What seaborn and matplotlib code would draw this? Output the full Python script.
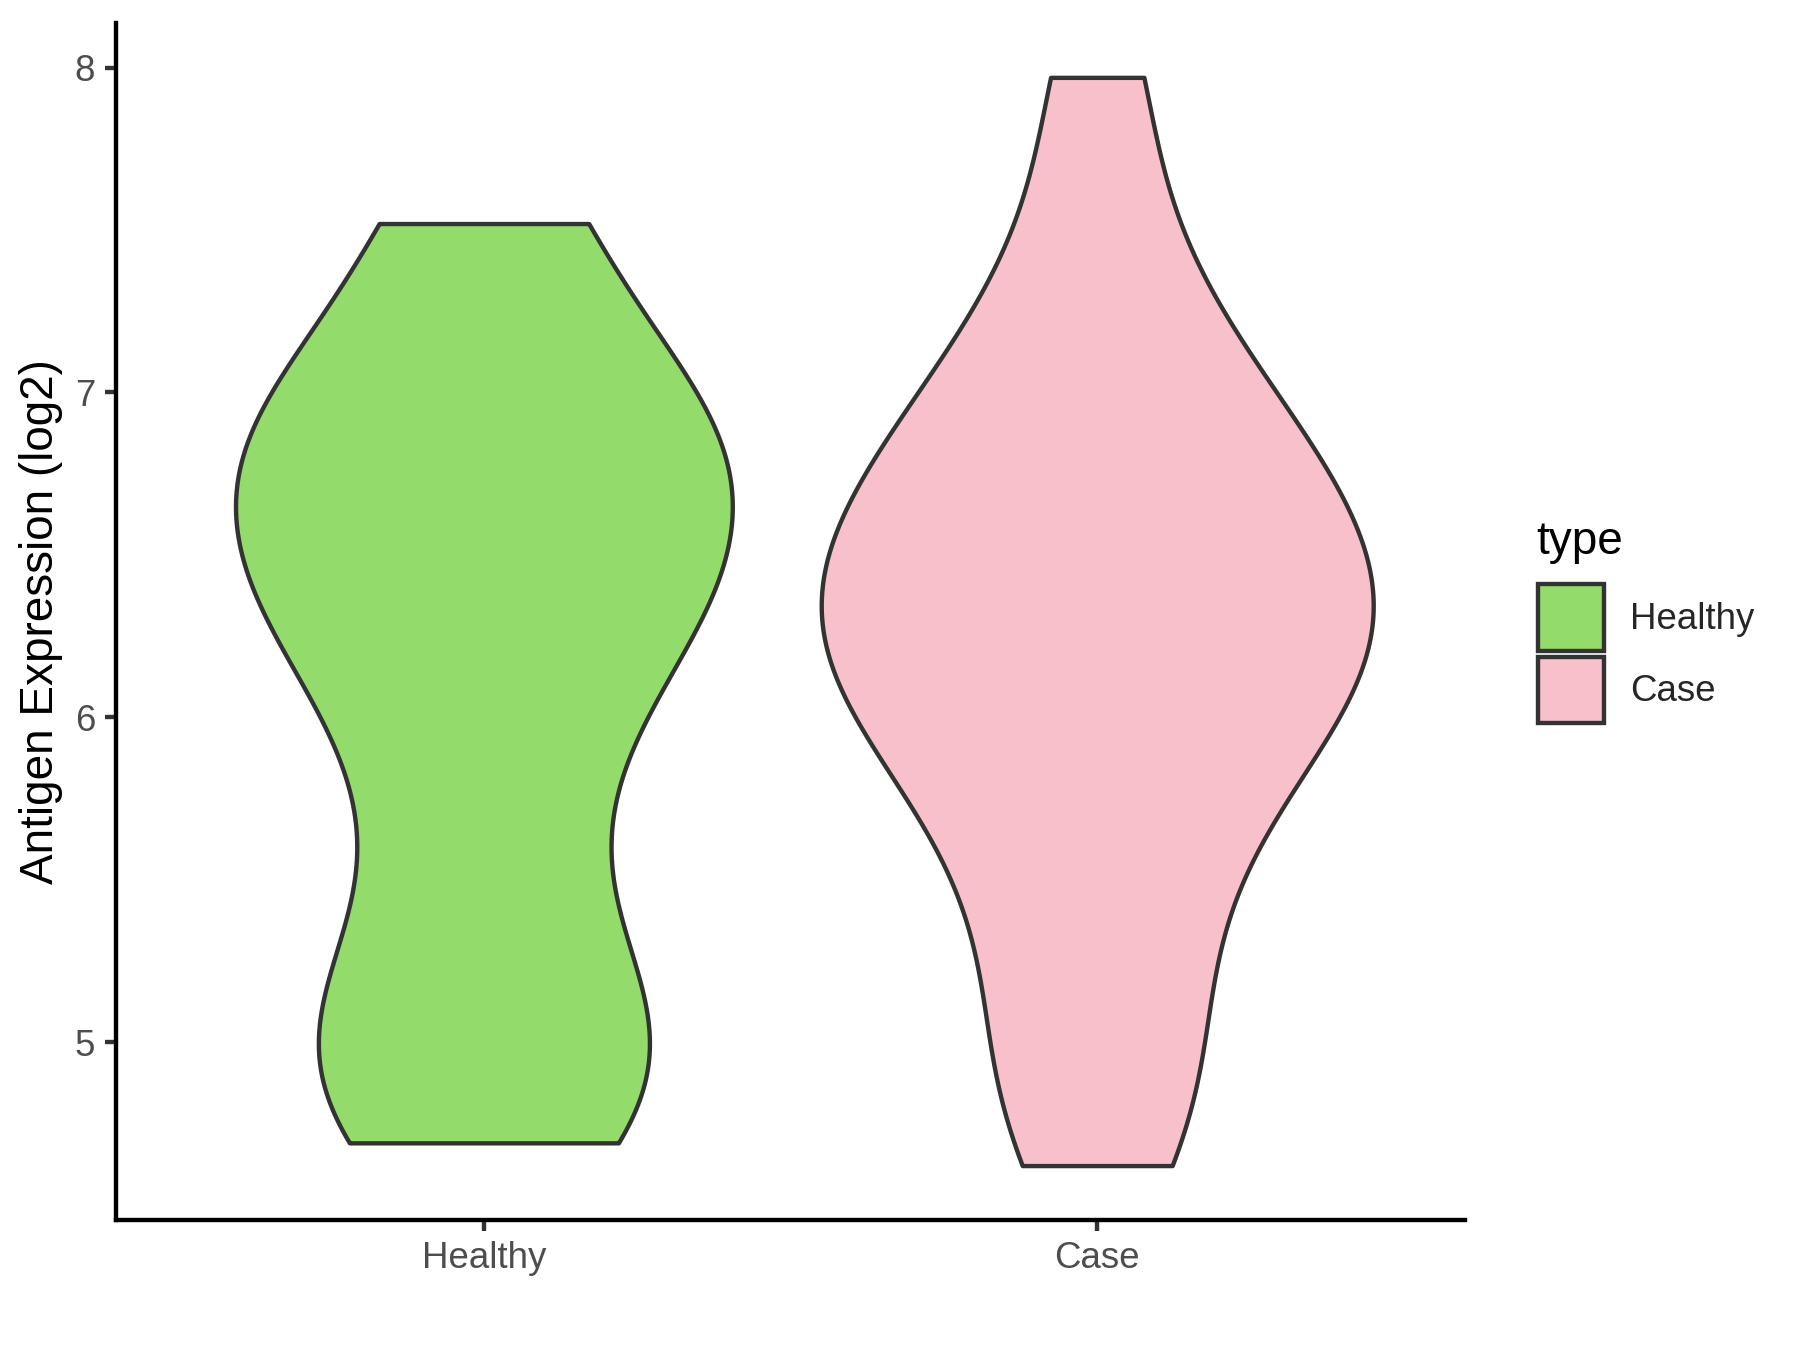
import matplotlib
matplotlib.use("Agg")
import matplotlib.pyplot as plt
import pandas as pd
import seaborn as sns
from matplotlib.patches import Patch

# Values
GROUPS = ["Healthy", "Case"]
COLORS = ["#93DB6A", "#F7C0CB"]
HEALTHY = [4.69, 4.95, 5.25, 5.8, 6.25, 6.4, 6.65, 6.9, 7.0, 7.52]
CASE = [4.62, 4.85, 5.12, 5.38, 5.65, 5.8, 5.95, 6.05, 6.15, 6.25,
        6.32, 6.4, 6.5, 6.6, 6.72, 6.85, 6.95, 7.15, 7.45, 7.97]
Y_TICKS = [5, 6, 7, 8]
Y_LABEL = "Antigen Expression (log2)"
LEGEND_TITLE = "type"
BANDWIDTH = 0.35

EDGE = "#333333"
LW = 2.1


def fixed_bandwidth(kde):
    # same absolute kernel width for every group
    return BANDWIDTH / kde.dataset.std(ddof=1)


df = pd.DataFrame({
    "type": ["Healthy"] * len(HEALTHY) + ["Case"] * len(CASE),
    "value": HEALTHY + CASE,
})

sns.set_style("ticks")
plt.rcParams["font.family"] = ["Liberation Sans", "DejaVu Sans"]

fig = plt.figure(figsize=(12, 9), dpi=150)
ax = fig.add_axes([0.0644, 0.0963, 0.7496, 0.8867])

sns.violinplot(
    data=df, x="type", y="value", hue="type",
    order=GROUPS, hue_order=GROUPS, palette=COLORS, saturation=1,
    density_norm="area", common_norm=True, cut=0, inner=None,
    width=0.9, gridsize=512, bw_method=fixed_bandwidth,
    linewidth=LW, linecolor=EDGE, legend=False, ax=ax,
)

lo, hi = min(df["value"]), max(df["value"])
span = hi - lo
ax.set_ylim(lo - 0.05 * span, hi + 0.05 * span)
ax.set_xlim(-0.6, 1.6)
ax.set_yticks(Y_TICKS)

ax.set_xlabel("")
ax.set_ylabel(Y_LABEL, fontsize=22, color="black", labelpad=5.5)

for side in ["top", "right"]:
    ax.spines[side].set_visible(False)
for side in ["left", "bottom"]:
    ax.spines[side].set_color("black")
    ax.spines[side].set_linewidth(LW)

ax.tick_params(length=5.5, width=LW, color=EDGE, labelcolor="#4D4D4D",
               labelsize=17.6, pad=4.4)

# legend: title as its own text so the gap to the keys matches ggplot
fig.text(0.8533, 0.5893, LEGEND_TITLE, fontsize=22, color="black",
         ha="left", va="baseline")
handles = [Patch(facecolor=c, edgecolor=EDGE, linewidth=LW, label=g)
           for g, c in zip(GROUPS, COLORS)]
fig.legend(
    handles=handles, loc="center left", bbox_to_anchor=(0.8546, 0.5157),
    frameon=False, fontsize=17.6, handlelength=1.8, handleheight=2.42,
    labelspacing=0.15, handletextpad=0.7, borderpad=0, borderaxespad=0,
)

fig.savefig("out.png", dpi=150, facecolor="white")
